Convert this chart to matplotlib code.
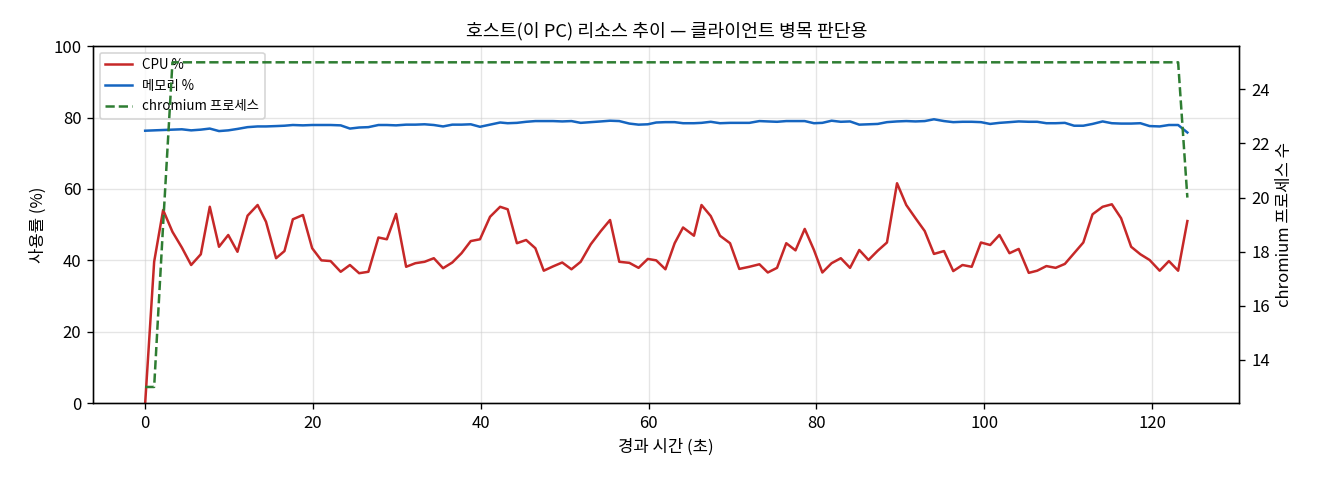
import matplotlib
matplotlib.use("Agg")
import matplotlib.pyplot as plt

plt.rcParams['font.family'] = ['Noto Sans CJK KR', 'DejaVu Sans']
plt.rcParams['axes.unicode_minus'] = False

elapsed_s = [0.0, 1.07, 2.14, 3.25, 4.37, 5.48, 6.63, 7.7, 8.8, 9.9,
             11.0, 12.2, 13.4, 14.4, 15.6, 16.6, 17.6, 18.8, 19.9, 21.0,
             22.1, 23.3, 24.4, 25.5, 26.6, 27.8, 28.8, 29.9, 31.1, 32.2,
             33.3, 34.4, 35.5, 36.6, 37.7, 38.8, 39.9, 41.1, 42.3, 43.2,
             44.3, 45.4, 46.5, 47.5, 48.6, 49.7, 50.8, 51.9, 53.1, 54.3,
             55.4, 56.5, 57.7, 58.8, 59.9, 60.9, 62.0, 63.1, 64.1, 65.4,
             66.3, 67.4, 68.5, 69.7, 70.8, 72.0, 73.2, 74.2, 75.3, 76.4,
             77.5, 78.6, 79.7, 80.7, 81.8, 82.9, 84.0, 85.1, 86.2, 87.3,
             88.4, 89.6, 90.7, 91.8, 92.9, 94.0, 95.2, 96.3, 97.4, 98.5,
             99.6, 100.7, 101.8, 103.0, 104.1, 105.3, 106.3, 107.4, 108.5, 109.6,
             110.7, 111.8, 112.9, 114.1, 115.2, 116.3, 117.5, 118.6, 119.7, 120.9,
             122.0, 123.1, 124.2]

cpu_pct = [0.0, 39.6, 54.1, 48.0, 43.6, 38.7, 41.7, 55.0, 43.8, 47.1,
           42.4, 52.5, 55.5, 50.8, 40.6, 42.6, 51.5, 52.7, 43.4, 40.0,
           39.8, 36.8, 38.7, 36.4, 36.8, 46.4, 45.9, 53.0, 38.2, 39.2,
           39.6, 40.6, 37.8, 39.4, 42.0, 45.4, 45.9, 52.2, 55.0, 54.3,
           44.8, 45.7, 43.4, 37.1, 38.3, 39.4, 37.5, 39.6, 44.5, 48.2,
           51.3, 39.6, 39.3, 37.9, 40.4, 40.0, 37.5, 44.8, 49.2, 46.9,
           55.5, 52.4, 46.9, 44.8, 37.6, 38.2, 38.9, 36.6, 37.9, 44.8,
           42.8, 48.8, 42.9, 36.6, 39.2, 40.6, 37.9, 42.9, 40.1, 42.7,
           45.0, 61.6, 55.5, 51.8, 48.2, 41.8, 42.6, 37.0, 38.7, 38.2,
           45.0, 44.3, 47.1, 42.0, 43.2, 36.5, 37.1, 38.4, 37.9, 39.0,
           42.0, 45.0, 52.9, 55.0, 55.7, 51.8, 43.8, 41.7, 40.1, 37.1,
           39.8, 37.1, 51.0]

mem_pct = [76.3, 76.4, 76.5, 76.6, 76.7, 76.4, 76.6, 76.9, 76.2, 76.4,
           76.8, 77.3, 77.5, 77.5, 77.6, 77.7, 77.9, 77.8, 77.9, 77.9,
           77.9, 77.8, 76.9, 77.2, 77.3, 77.9, 77.9, 77.8, 78.0, 78.0,
           78.1, 77.9, 77.5, 78.0, 78.0, 78.1, 77.4, 78.0, 78.6, 78.4,
           78.5, 78.8, 79.0, 79.0, 79.0, 78.9, 79.0, 78.5, 78.7, 78.9,
           79.1, 79.0, 78.3, 78.0, 78.1, 78.6, 78.7, 78.7, 78.4, 78.4,
           78.5, 78.8, 78.4, 78.5, 78.5, 78.5, 79.0, 78.9, 78.8, 79.0,
           79.0, 79.0, 78.4, 78.5, 79.1, 78.8, 78.9, 78.0, 78.1, 78.2,
           78.7, 78.9, 79.0, 78.9, 79.0, 79.5, 79.0, 78.7, 78.8, 78.8,
           78.7, 78.2, 78.5, 78.7, 78.9, 78.8, 78.8, 78.4, 78.4, 78.5,
           77.7, 77.7, 78.2, 78.9, 78.4, 78.3, 78.3, 78.4, 77.6, 77.5,
           77.9, 77.9, 75.8]

chromium_procs = [13, 13, 19] + [25] * 109 + [20]

fig, ax1 = plt.subplots(figsize=(11, 4), dpi=120)
fig.subplots_adjust(left=0.0705, right=0.939, top=0.904, bottom=0.16)

l1, = ax1.plot(elapsed_s, cpu_pct, color='#c62828', lw=1.5, label='CPU %')
l2, = ax1.plot(elapsed_s, mem_pct, color='#1565c0', lw=1.5, label='메모리 %')
ax1.set_ylim(0, 100)
ax1.set_ylabel('사용률 (%)')
ax1.set_xlabel('경과 시간 (초)')
ax1.grid(True, color='#cccccc', alpha=0.5, lw=0.8)

ax2 = ax1.twinx()
l3, = ax2.plot(elapsed_s, chromium_procs, color='#2e7d32', lw=1.5, ls='--',
               label='chromium 프로세스')
ax2.set_ylabel('chromium 프로세스 수')

ax1.legend(handles=[l1, l2, l3], loc='upper left', fontsize=8)
ax1.set_title('호스트(이 PC) 리소스 추이 — 클라이언트 병목 판단용', fontsize=11)

fig.savefig('out.png', dpi=120)
